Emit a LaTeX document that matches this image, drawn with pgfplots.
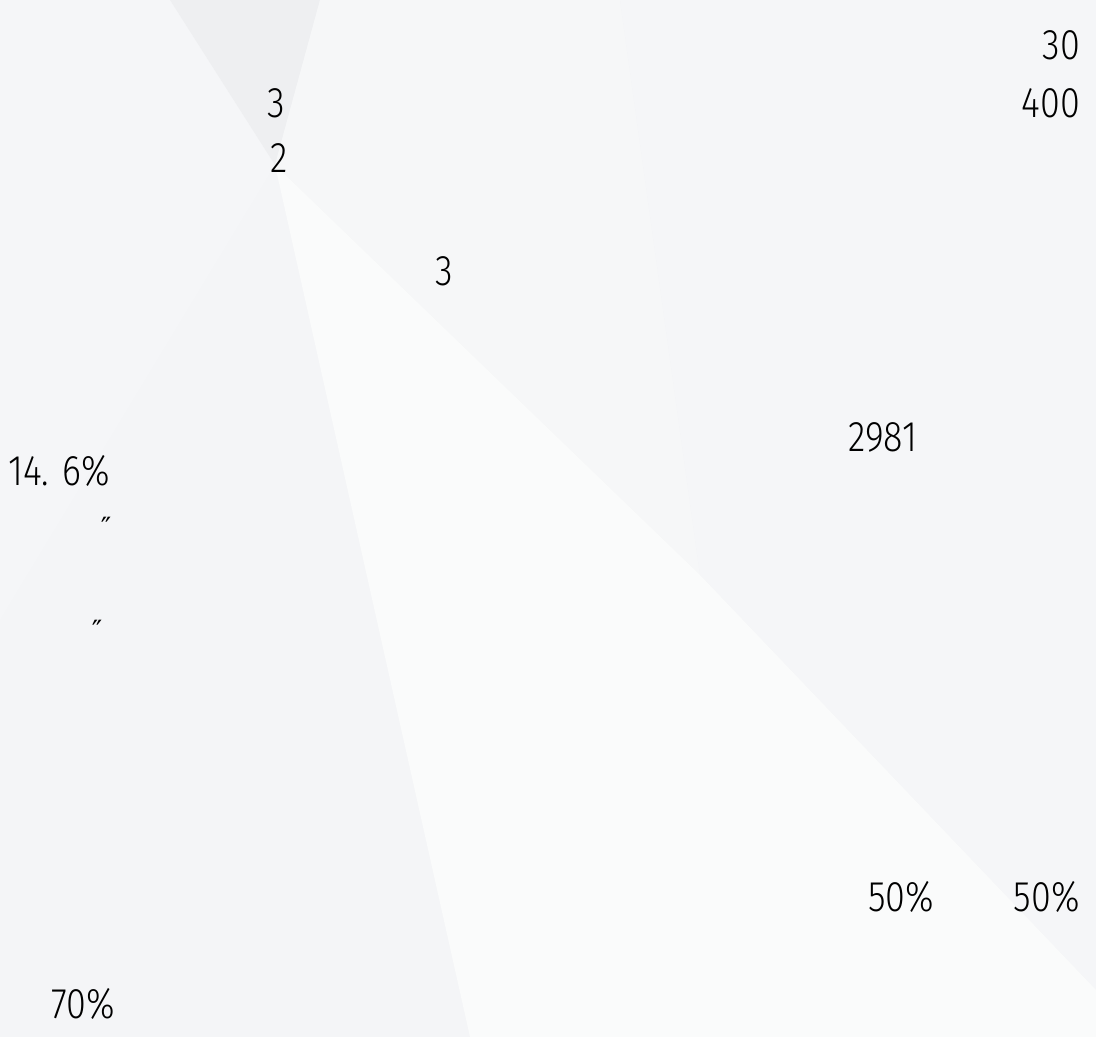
\documentclass[border=0pt]{standalone}
\usepackage{fontspec}
\setmainfont{Fira Sans}[UprightFont={* Light}]
\newfontfamily\symfont{DejaVu Sans}
\usepackage{graphicx}
\usepackage{pgfplots}
\pgfplotsset{compat=1.18}
\definecolor{bgbase}{HTML}{F4F5F7}
\definecolor{facetA}{HTML}{EEEFF1}
\definecolor{facetB}{HTML}{F6F7F8}
\definecolor{facetC}{HTML}{FAFBFB}
\definecolor{facetD}{HTML}{F5F6F8}
\definecolor{facetE}{HTML}{F5F6F8}
\newcommand{\lbl}[1]{\fontsize{43}{46}\selectfont\scalebox{0.84}[1]{#1}}
\begin{document}
\begin{tikzpicture}
\begin{axis}[
  width=1096bp, height=1037bp, scale only axis,
  xmin=0, xmax=1096, ymin=0, ymax=1037, y dir=reverse,
  axis lines=none, clip=true
]
% background facets
\addplot[fill=bgbase, draw=none] coordinates {(0,0) (1096,0) (1096,1037) (0,1037)} -- cycle;
\addplot[fill=facetE, draw=none] coordinates {(0,0) (200,0) (275,165) (0,620)} -- cycle;
\addplot[fill=facetA, draw=none] coordinates {(170,0) (320,0) (275,165)} -- cycle;
\addplot[fill=facetB, draw=none] coordinates {(320,0) (620,0) (700,575) (275,165)} -- cycle;
\addplot[fill=facetD, draw=none] coordinates {(620,0) (1096,0) (1096,990) (700,575)} -- cycle;
\addplot[fill=facetC, draw=none] coordinates {(275,165) (700,575) (1096,990) (1096,1037) (470,1037)} -- cycle;
% texts
\node[anchor=east, inner sep=0pt] at (axis cs:1080,45) {\lbl{30}};
\node[anchor=east, inner sep=0pt] at (axis cs:1080,103) {\lbl{400}};
\node[anchor=center, inner sep=0pt] at (axis cs:276,103) {\lbl{3}};
\node[anchor=center, inner sep=0pt] at (axis cs:279,158) {\lbl{2}};
\node[anchor=center, inner sep=0pt] at (axis cs:444,271) {\lbl{3}};
\node[anchor=west, inner sep=0pt] at (axis cs:848,437) {\lbl{2981}};
\node[anchor=west, inner sep=0pt] at (axis cs:8,471) {\lbl{14. 6\%}};
\node[anchor=center, inner sep=0pt, font=\symfont\fontsize{28}{30}\selectfont] at (axis cs:106,527) {″};
\node[anchor=center, inner sep=0pt, font=\symfont\fontsize{28}{30}\selectfont] at (axis cs:97,630) {″};
\node[anchor=west, inner sep=0pt] at (axis cs:868,897) {\lbl{50\%}};
\node[anchor=east, inner sep=0pt] at (axis cs:1080,897) {\lbl{50\%}};
\node[anchor=west, inner sep=0pt] at (axis cs:51,1004) {\lbl{70\%}};
\end{axis}
\end{tikzpicture}
\end{document}
